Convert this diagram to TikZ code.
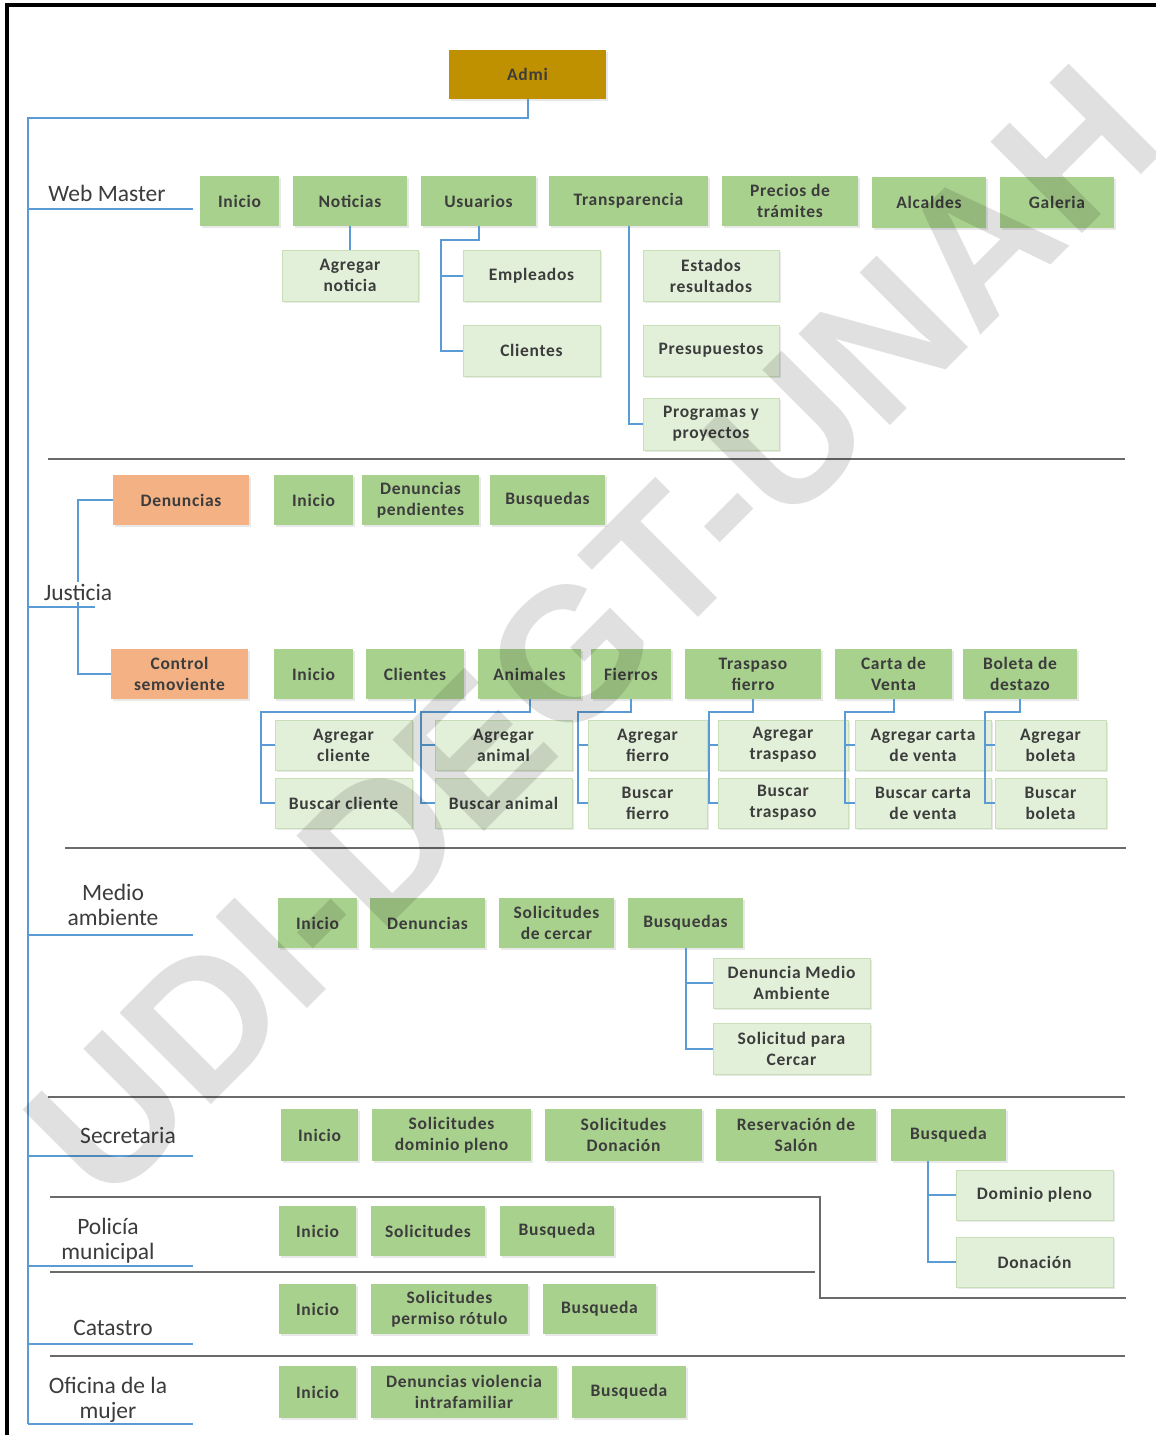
\documentclass[tikz,border=0pt]{standalone}
\usepackage{fontspec}
\setmainfont{Carlito}
\newfontfamily\bxfont[LetterSpace=4]{Carlito}
\newfontfamily\wmfont{Liberation Sans}
\usetikzlibrary{shadows,calc}
\definecolor{gfill}{HTML}{A9D18E}
\definecolor{lgfill}{HTML}{E2F0D9}
\definecolor{lgdraw}{HTML}{C9DFB7}
\definecolor{ofill}{HTML}{F4B183}
\definecolor{admifill}{HTML}{BF9000}
\definecolor{conncol}{HTML}{5B9BD5}
\definecolor{sepcol}{HTML}{6A6A6A}
\definecolor{txt}{HTML}{3C3C3C}
\newcommand{\bx}[7]{\node[#1, anchor=north west, minimum width={(#5-#3)*1pt}, minimum height={(#6-#4)*1pt}] (#2) at (#3,#4) {#7};}
\tikzset{
  box/.style={inner sep=1pt, outer sep=0pt, align=center, text=txt,
    font=\bxfont\bfseries\fontsize{17.5}{21}\selectfont,
    drop shadow={shadow xshift=1.5pt, shadow yshift=-1.5pt, opacity=0.18}},
  gbox/.style={box, fill=gfill},
  lbox/.style={box, fill=lgfill, draw=lgdraw, line width=0.8pt},
  obox/.style={box, fill=ofill},
  abox/.style={box, fill=admifill},
  conn/.style={draw=conncol, line width=2pt},
  sep/.style={draw=sepcol, line width=2.5pt},
  lab/.style={text=txt, font=\fontsize{23.5}{25}\selectfont, align=center, inner sep=0pt},
}
\begin{document}
\begin{tikzpicture}[x=1pt,y=-1pt]
\useasboundingbox (0,0) rectangle (1156,1435);
\fill[white] (0,0) rectangle (1156,1435);
% frame
\draw[black, line width=3.5pt] (7,1445) -- (7,5) -- (1165,5);

% Admi and trunk
\bx{abox}{admi}{449}{50}{606}{99}{Admi}
\coordinate (trunkend) at (28,1424);
\draw[conn] (admi.south) -- ++(0,19) -| (trunkend);

% ---------- Web Master ----------
\node[lab] (lweb) at (107,193) {Web Master};
\coordinate (uweb) at (193,209);
\draw[conn] (trunkend |- uweb) -- (uweb);
\bx{gbox}{wIni}{200}{176}{279}{226}{Inicio}
\bx{gbox}{wNot}{293}{176}{407}{226}{Noticias}
\bx{gbox}{wUsu}{421}{176}{536}{226}{Usuarios}
\bx{gbox}{wTra}{549}{176}{708}{226}{Transparencia}
\bx{gbox}{wPre}{722}{176}{858}{226}{Precios de\\trámites}
\bx{gbox}{wAlc}{872}{177}{986}{228}{Alcaldes}
\bx{gbox}{wGal}{1000}{177}{1114}{228}{Galeria}
\bx{lbox}{wAgN}{282}{250}{418}{301}{Agregar\\noticia}
\bx{lbox}{wEmp}{463}{250}{600}{301}{Empleados}
\bx{lbox}{wCli}{463}{325}{600}{376}{Clientes}
\bx{lbox}{wEst}{643}{250}{779}{301}{Estados\\resultados}
\bx{lbox}{wPres}{643}{325}{779}{376}{Presupuestos}
\bx{lbox}{wProg}{643}{398}{779}{450}{Programas y\\proyectos}
\draw[conn] (wNot.south) -- (wAgN.north);
\draw[conn] (wUsu.south) -- ++(0,14) -| ([xshift=-22pt]wCli.west) -- (wCli.west);
\draw[conn] ([xshift=-22pt]wEmp.west) -- (wEmp.west);
\draw[conn] (wTra.south) |- (wProg.west);
\draw[sep] (48,459) -- (1125,459);

% ---------- Justicia ----------
\bx{obox}{jDen}{113}{475}{249}{525}{Denuncias}
\bx{gbox}{jIni}{274}{475}{353}{525}{Inicio}
\bx{gbox}{jDP}{362}{475}{479}{525}{Denuncias\\pendientes}
\bx{gbox}{jBus}{490}{475}{605}{525}{Busquedas}
\bx{obox}{jCS}{111}{649}{248}{699}{Control\\semoviente}
\coordinate (jx) at (78,600);
\draw[conn] (jDen.west) -| (jx) |- (jCS.west);
\coordinate (ujus) at (95,607);
\draw[conn] (trunkend |- ujus) -- (ujus);
\node[lab, fill=white, inner sep=2pt] (ljus) at (78,592) {Justicia};
\bx{gbox}{cIni}{274}{649}{353}{699}{Inicio}
\bx{gbox}{cCli}{366}{649}{464}{699}{Clientes}
\bx{gbox}{cAni}{478}{649}{581}{699}{Animales}
\bx{gbox}{cFie}{591}{649}{671}{699}{Fierros}
\bx{gbox}{cTra}{685}{649}{821}{699}{Traspaso\\fierro}
\bx{gbox}{cCar}{835}{649}{952}{699}{Carta de\\Venta}
\bx{gbox}{cBol}{963}{649}{1077}{699}{Boleta de\\destazo}
\bx{lbox}{sAC}{275}{720}{412}{770}{Agregar\\cliente}
\bx{lbox}{sBC}{275}{778}{412}{828}{Buscar cliente}
\bx{lbox}{sAA}{435}{720}{572}{770}{Agregar\\animal}
\bx{lbox}{sBA}{435}{778}{572}{828}{Buscar animal}
\bx{lbox}{sAF}{588}{720}{707}{770}{Agregar\\fierro}
\bx{lbox}{sBF}{588}{778}{707}{828}{Buscar\\fierro}
\bx{lbox}{sAT}{718}{720}{848}{770}{Agregar\\traspaso}
\bx{lbox}{sBT}{718}{778}{848}{828}{Buscar\\traspaso}
\bx{lbox}{sACV}{855}{720}{991}{770}{Agregar carta\\de venta}
\bx{lbox}{sBCV}{855}{778}{991}{828}{Buscar carta\\de venta}
\bx{lbox}{sAB}{995}{720}{1106}{770}{Agregar\\boleta}
\bx{lbox}{sBB}{995}{778}{1106}{828}{Buscar\\boleta}
\draw[conn] (cCli.south) -- ++(0,13) -| ([xshift=-14pt]sBC.west) -- (sBC.west);
\draw[conn] ([xshift=-14pt]sAC.west) -- (sAC.west);
\draw[conn] (cAni.south) -- ++(0,13) -| ([xshift=-14pt]sBA.west) -- (sBA.west);
\draw[conn] ([xshift=-14pt]sAA.west) -- (sAA.west);
\draw[conn] (cFie.south) -- ++(0,13) -| ([xshift=-10pt]sBF.west) -- (sBF.west);
\draw[conn] ([xshift=-10pt]sAF.west) -- (sAF.west);
\draw[conn] (cTra.south) -- ++(0,13) -| ([xshift=-9pt]sBT.west) -- (sBT.west);
\draw[conn] ([xshift=-9pt]sAT.west) -- (sAT.west);
\draw[conn] (cCar.south) -- ++(0,13) -| ([xshift=-10pt]sBCV.west) -- (sBCV.west);
\draw[conn] ([xshift=-10pt]sACV.west) -- (sACV.west);
\draw[conn] (cBol.south) -- ++(0,13) -| ([xshift=-10pt]sBB.west) -- (sBB.west);
\draw[conn] ([xshift=-10pt]sAB.west) -- (sAB.west);
\draw[sep] (65,848) -- (1126,848);

% ---------- Medio ambiente ----------
\node[lab] (lmed) at (113,905) {Medio\\ambiente};
\coordinate (umed) at (193,935);
\draw[conn] (trunkend |- umed) -- (umed);
\bx{gbox}{mIni}{278}{898}{357}{948}{Inicio}
\bx{gbox}{mDen}{370}{898}{485}{948}{Denuncias}
\bx{gbox}{mSol}{499}{898}{614}{948}{Solicitudes\\de cercar}
\bx{gbox}{mBus}{628}{898}{743}{948}{Busquedas}
\bx{lbox}{mDMA}{713}{958}{870}{1008}{Denuncia Medio\\Ambiente}
\bx{lbox}{mSPC}{713}{1023}{870}{1074}{Solicitud para\\Cercar}
\draw[conn] (mBus.south) |- (mSPC.west);
\draw[conn] (mBus.south |- mDMA.west) -- (mDMA.west);
\draw[sep] (48,1097) -- (1125,1097);

% ---------- Secretaria ----------
\node[lab] (lsec) at (128,1135) {Secretaria};
\coordinate (usec) at (193,1156);
\draw[conn] (trunkend |- usec) -- (usec);
\bx{gbox}{sIni}{281}{1109}{358}{1161}{Inicio}
\bx{gbox}{sSDP}{372}{1109}{531}{1161}{Solicitudes\\dominio pleno}
\bx{gbox}{sSD}{545}{1109}{702}{1161}{Solicitudes\\Donación}
\bx{gbox}{sRS}{716}{1109}{876}{1161}{Reservación de\\Salón}
\bx{gbox}{sBus}{891}{1109}{1006}{1161}{Busqueda}
\bx{lbox}{sDP}{956}{1170}{1113}{1220}{Dominio pleno}
\bx{lbox}{sDon}{956}{1237}{1113}{1287}{Donación}
\coordinate (sbr) at ([xshift=-28pt]sDP.west);
\draw[conn] (sbr |- sBus.south) |- (sDon.west);
\draw[conn] (sbr) -- (sDP.west);
\draw[sep] (50,1197) -- (820,1197) -- (820,1298) -- (1126,1298);

% ---------- Policia municipal ----------
\node[lab] (lpol) at (108,1241) {Policía\\municipal};
\coordinate (upol) at (193,1266);
\draw[conn] (trunkend |- upol) -- (upol);
\bx{gbox}{pIni}{279}{1206}{356}{1256}{Inicio}
\bx{gbox}{pSol}{371}{1206}{485}{1256}{Solicitudes}
\bx{gbox}{pBus}{500}{1206}{614}{1256}{Busqueda}
\draw[sep] (50,1272) -- (815,1272);

% ---------- Catastro ----------
\node[lab] (lcat) at (113,1328) {Catastro};
\coordinate (ucat) at (193,1344);
\draw[conn] (trunkend |- ucat) -- (ucat);
\bx{gbox}{kIni}{279}{1284}{356}{1334}{Inicio}
\bx{gbox}{kSol}{371}{1284}{528}{1334}{Solicitudes\\permiso rótulo}
\bx{gbox}{kBus}{543}{1284}{656}{1334}{Busqueda}
\draw[sep] (50,1356) -- (1125,1356);

% ---------- Oficina de la mujer ----------
\node[lab] (lofi) at (108,1400) {Oficina de la\\mujer};
\coordinate (uofi) at (193,1424);
\draw[conn] (trunkend) -- (uofi);
\bx{gbox}{oIni}{279}{1366}{356}{1418}{Inicio}
\bx{gbox}{oDen}{371}{1366}{557}{1418}{Denuncias violencia\\intrafamiliar}
\bx{gbox}{oBus}{572}{1366}{686}{1418}{Busqueda}

% watermark
\node[rotate=45, font=\wmfont\bfseries\fontsize{188}{188}\selectfont, text=black, opacity=0.12, text opacity=0.12] (wm) at (592,632) {UDI-DEGT-UNAH};
\end{tikzpicture}
\end{document}
